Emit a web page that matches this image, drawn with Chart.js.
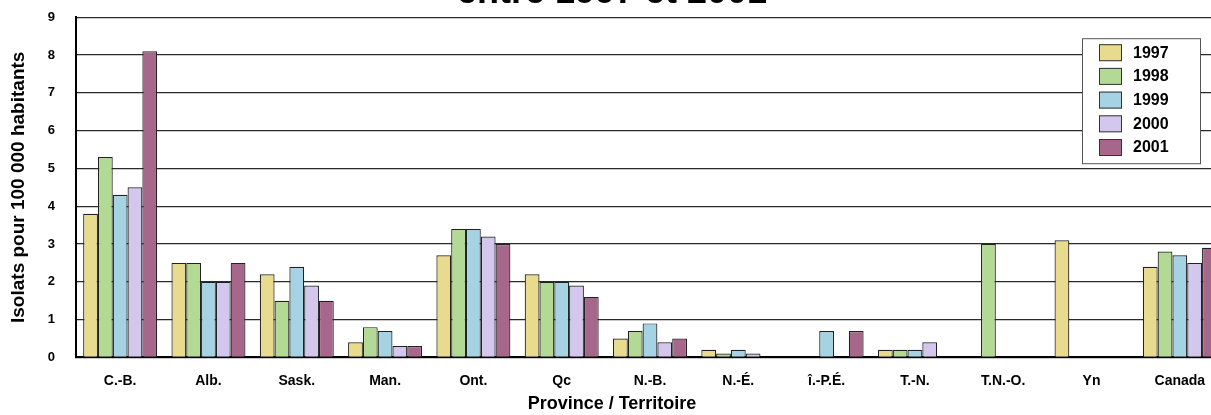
<!DOCTYPE html>
<html>
<head>
<meta charset="utf-8">
<script src="https://cdn.jsdelivr.net/npm/chart.js@4/dist/chart.umd.min.js"></script>
<style>
  html, body { margin:0; padding:0; background:#fff; }
  #wrap { position:relative; width:1211px; height:415px; overflow:hidden; }
  #box { position:absolute; left:0; top:-30px; width:1240px; height:445px; }
</style>
</head>
<body>
<div id="wrap"><div id="box"><canvas id="c"></canvas></div></div>
<script>
(function(){
  const provinces = ["C.-B.","Alb.","Sask.","Man.","Ont.","Qc","N.-B.","N.-É.","î.-P.É.","T.-N.","T.N.-O.","Yn","Canada"];
  const years = ["1997","1998","1999","2000","2001"];
  const v1997 = [3.8, 2.5, 2.2, 0.4, 2.7, 2.2, 0.5, 0.2, 0,   0.2, 0,   3.1, 2.4];
  const v1998 = [5.3, 2.5, 1.5, 0.8, 3.4, 2.0, 0.7, 0.1, 0,   0.2, 3.0, 0,   2.8];
  const v1999 = [4.3, 2.0, 2.4, 0.7, 3.4, 2.0, 0.9, 0.2, 0.7, 0.2, 0,   0,   2.7];
  const v2000 = [4.5, 2.0, 1.9, 0.3, 3.2, 1.9, 0.4, 0.1, 0,   0.4, 0,   0,   2.5];
  const v2001 = [8.1, 2.5, 1.5, 0.3, 3.0, 1.6, 0.5, 0,   0.7, 0,   0,   0,   2.9];
  const yTicks = [0,1,2,3,4,5,6,7,8,9];

  const colors = ["#E8DB8E","#B2DA94","#A5D3E4","#D3C7EE","#A6678B"];
  const series = [v1997, v1998, v1999, v2000, v2001];
  const FONT = "'Liberation Sans', Arial, sans-serif";

  // legend box drawn inside the plot, top right
  const boxLegend = {
    id: 'boxLegend',
    afterDraw(chart){
      const ctx = chart.ctx, a = chart.chartArea;
      const x = a.right - 142, y = a.top + 21, w = 118, h = 125;
      ctx.save();
      ctx.fillStyle = '#fff';
      ctx.fillRect(x, y, w, h);
      ctx.strokeStyle = '#555';
      ctx.lineWidth = 1;
      ctx.strokeRect(x + 0.5, y + 0.5, w, h);
      ctx.font = "bold 16px " + FONT;
      ctx.textBaseline = 'middle';
      chart.data.datasets.forEach((ds, i) => {
        const cy = y + 14 + i * 23.7;
        ctx.fillStyle = ds.backgroundColor;
        ctx.fillRect(x + 17, cy - 8, 23, 17);
        ctx.strokeStyle = '#333';
        ctx.strokeRect(x + 17.5, cy - 7.5, 22, 16);
        ctx.fillStyle = '#000';
        ctx.fillText(ds.label, x + 51, cy + 1);
      });
      ctx.restore();
    }
  };

  new Chart(document.getElementById('c'), {
    type: 'bar',
    data: {
      labels: provinces,
      datasets: years.map((y, i) => ({
        label: y,
        data: series[i],
        backgroundColor: colors[i],
        borderColor: '#222',
        borderWidth: 1.2,
        borderSkipped: 'bottom',
        barPercentage: 1,
        categoryPercentage: 0.838
      }))
    },
    options: {
      responsive: true,
      maintainAspectRatio: false,
      animation: false,
      layout: { padding: { left: 0, right: 16, top: 0, bottom: 0 } },
      plugins: {
        legend: { display: false },
        tooltip: { enabled: false },
        title: {
          display: true,
          text: 'entre 1997 et 2001',
          color: '#000',
          font: { family: FONT, size: 36, weight: 'bold', lineHeight: 1.2 },
          padding: { top: 1, bottom: 3 }
        },
        subtitle: {
          display: true,
          position: 'bottom',
          text: 'Province / Territoire',
          color: '#000',
          font: { family: FONT, size: 18, weight: 'bold', lineHeight: 1.2 },
          padding: { top: 0, bottom: 0 }
        }
      },
      scales: {
        x: {
          grid: { display: false },
          border: { display: true, color: '#000', width: 2 },
          ticks: { color: '#000', font: { family: FONT, size: 14, weight: 'bold' }, padding: 7, maxRotation: 0, autoSkip: false },
          afterFit(s){ s.height = 36; }
        },
        y: {
          min: 0, max: 9,
          afterBuildTicks(s){ s.ticks = yTicks.map(v => ({ value: v })); },
          grid: { color: '#2a2a2a', lineWidth: 1.3, drawTicks: false },
          border: { display: true, color: '#000', width: 2 },
          ticks: { color: '#000', font: { family: FONT, size: 13, weight: 'bold' }, padding: 21 },
          title: {
            display: true,
            text: 'Isolats pour 100 000 habitants',
            color: '#000',
            font: { family: FONT, size: 19, weight: 'bold' },
            padding: { top: 7, bottom: 0 }
          },
          afterFit(s){ s.width = 76; }
        }
      }
    },
    plugins: [boxLegend]
  });
})();
</script>
</body>
</html>
